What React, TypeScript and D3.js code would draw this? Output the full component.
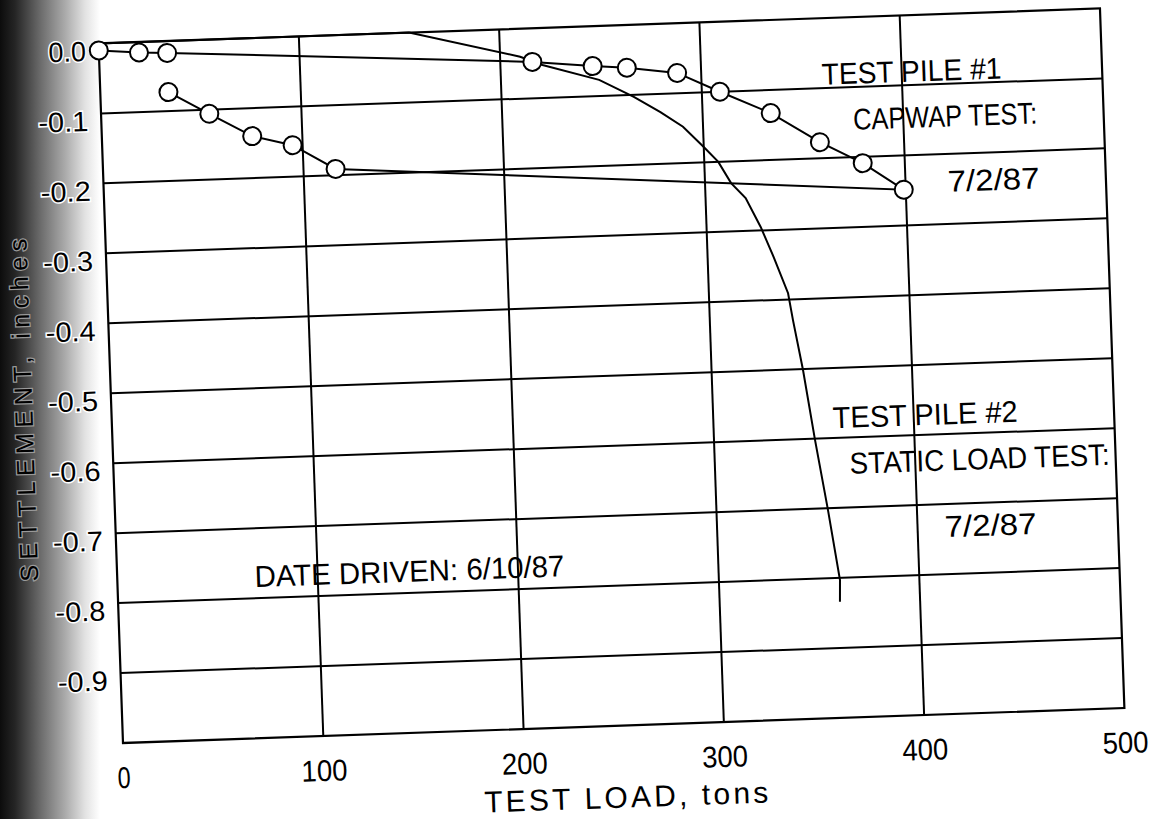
import * as d3 from 'd3';

// CAPWAP test (test pile #1): loading then unloading
const capwapLoad = [0, 20, 34, 216, 246, 263, 288, 309, 334, 358, 379, 399, 116, 95, 75, 54, 34];
const capwapSettle = [-0.01, -0.015, -0.017, -0.048, -0.057, -0.061, -0.071, -0.1, -0.133, -0.177, -0.209, -0.249, -0.191, -0.155, -0.14, -0.106, -0.073];

// static load test (test pile #2)
const staticLoad = [0, 155, 210, 221, 249, 266, 279, 290, 300, 307, 313, 320, 327, 333, 339.5, 341.5, 345.6, 350.4, 355.6, 360.4, 360];
const staticSettle = [0, 0, -0.04, -0.053, -0.077, -0.103, -0.126, -0.148, -0.178, -0.2, -0.231, -0.253, -0.295, -0.339, -0.391, -0.43, -0.501, -0.602, -0.702, -0.803, -0.834];

const xTicks = [0, 100, 200, 300, 400, 500];
const yTicks = [0, -0.1, -0.2, -0.3, -0.4, -0.5, -0.6, -0.7, -0.8, -0.9];
const yTickLabels = ['0.0', '-0.1', '-0.2', '-0.3', '-0.4', '-0.5', '-0.6', '-0.7', '-0.8', '-0.9'];
const notes = ['TEST PILE #1', 'CAPWAP TEST:', '7/2/87', 'TEST PILE #2', 'STATIC LOAD TEST:', '7/2/87', 'DATE DRIVEN: 6/10/87'];

type Pt = [number, number];

export default function App() {
  const W = 1002;
  const H = 700;
  const font = '"Liberation Sans Narrow", "Liberation Sans", Arial, sans-serif';

  const x = d3.scaleLinear().domain([0, 500]).range([0, W]);
  const y = d3.scaleLinear().domain([-1, 0]).range([H, 0]);

  const line = d3.line<Pt>()
    .x(d => x(d[0]))
    .y(d => y(d[1]));

  const capwap: Pt[] = capwapLoad.map((l, i) => [l, capwapSettle[i]]);
  const stat: Pt[] = staticLoad.map((l, i) => [l, staticSettle[i]]);

  // where each note sits (load, settlement at baseline start) and its width in px
  const notePlaces = [
    { load: 360, settle: -0.095, w: 180 },
    { load: 375, settle: -0.161, w: 184 },
    { load: 421, settle: -0.254, w: 92 },
    { load: 359.6, settle: -0.586, w: 185 },
    { load: 367.3, settle: -0.652, w: 260 },
    { load: 413.5, settle: -0.747, w: 92 },
    { load: 68.5, settle: -0.784, w: 310 },
  ];

  return (
    <div style={{ position: 'absolute', left: 0, top: 0 }}>
      <svg width={1154} height={819} style={{ display: 'block', background: '#fff' }}>
        <defs>
          <linearGradient id="edge" x1="0" x2="1" y1="0" y2="0">
            <stop offset="0" stopColor="#0c0c0c" />
            <stop offset="0.15" stopColor="#252525" />
            <stop offset="0.4" stopColor="#6a6a6a" />
            <stop offset="0.65" stopColor="#aaaaaa" />
            <stop offset="0.85" stopColor="#e2e2e2" />
            <stop offset="1" stopColor="#ffffff" />
          </linearGradient>
        </defs>
        {/* dark page edge of the scan */}
        <rect x={0} y={0} width={100} height={819} fill="url(#edge)" />

        <g transform={`translate(123,743) rotate(-2) translate(0,${-H})`}>
          {/* grid */}
          {yTicks.slice(1).map(t => (
            <line key={'h' + t} x1={0} x2={W} y1={y(t)} y2={y(t)} stroke="#000" strokeWidth={2} />
          ))}
          {xTicks.slice(1, -1).map(t => (
            <line key={'v' + t} x1={x(t)} x2={x(t)} y1={0} y2={H} stroke="#000" strokeWidth={2} />
          ))}
          <rect x={0} y={0} width={W} height={H} fill="none" stroke="#000" strokeWidth={2.2} />

          {/* x tick labels */}
          {xTicks.map(t => (
            <text
              key={'xl' + t}
              x={x(t)}
              y={H + 45}
              textAnchor="middle"
              fontFamily={font}
              fontSize={30}
              textLength={String(t).length === 1 ? 13 : 46}
              lengthAdjust="spacingAndGlyphs"
            >
              {t}
            </text>
          ))}
          <text
            x={x(250)}
            y={H + 82}
            textAnchor="middle"
            fontFamily={font}
            fontSize={30}
            textLength={284}
            lengthAdjust="spacing"
          >
            TEST LOAD, tons
          </text>

          {/* y tick labels */}
          {yTicks.map((t, i) => (
            <text
              key={'yl' + t}
              x={-13}
              y={y(t) + 17}
              textAnchor="end"
              fontFamily={font}
              fontSize={28}
              textLength={yTickLabels[i].length * 12.5}
              lengthAdjust="spacingAndGlyphs"
              fill="#000"
              stroke="#fff"
              strokeWidth={3}
              paintOrder="stroke"
            >
              {yTickLabels[i]}
            </text>
          ))}
          <text
            transform={`translate(-88,${y(-0.52)}) rotate(-90)`}
            textAnchor="middle"
            dominantBaseline="central"
            fontFamily={font}
            fontSize={25}
            textLength={343}
            lengthAdjust="spacing"
            fill="#000"
            stroke="#9a9a9a"
            strokeWidth={2.5}
            paintOrder="stroke"
          >
            SETTLEMENT, inches
          </text>

          {/* static load test curve */}
          <path d={line(stat) || ''} fill="none" stroke="#000" strokeWidth={2} />

          {/* CAPWAP curve with markers */}
          <path d={line(capwap) || ''} fill="none" stroke="#000" strokeWidth={2} />
          {capwap.map((d, i) => (
            <circle key={'c' + i} cx={x(d[0])} cy={y(d[1])} r={9} fill="#fff" stroke="#000" strokeWidth={2} />
          ))}

          {/* notes */}
          {notes.map((n, i) => (
            <text
              key={'n' + i}
              x={x(notePlaces[i].load)}
              y={y(notePlaces[i].settle)}
              fontFamily={font}
              fontSize={30}
              textLength={notePlaces[i].w}
              lengthAdjust="spacingAndGlyphs"
              fill="#000"
            >
              {n}
            </text>
          ))}
        </g>
      </svg>
    </div>
  );
}
